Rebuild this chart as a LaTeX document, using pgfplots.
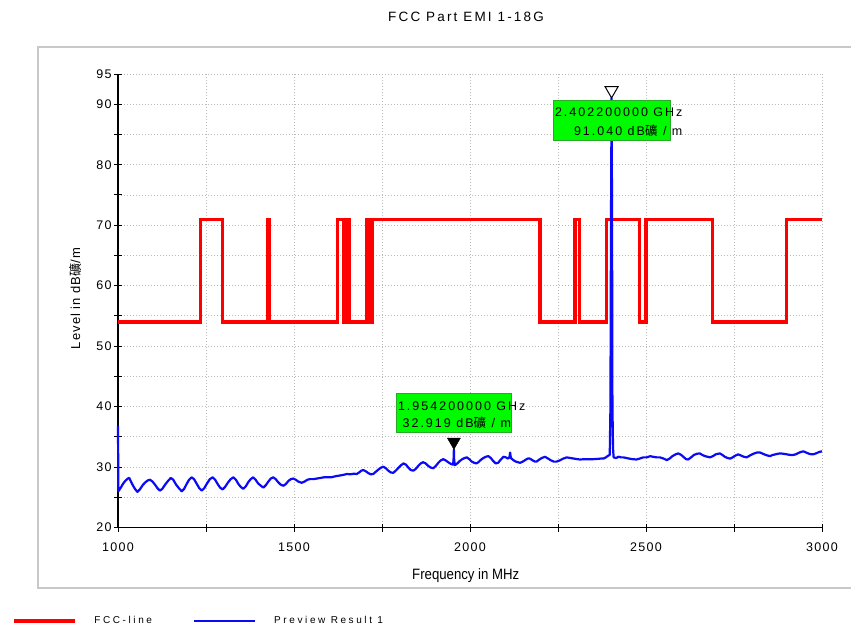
\documentclass[border=0pt]{standalone}
\usepackage{fontspec}
\usepackage{pgfplots}
\pgfplotsset{compat=1.18}
\setmainfont{Liberation Sans}
\newfontfamily\cjk{Noto Sans CJK SC}
\newfontfamily\tickfont[LetterSpace=10]{Liberation Sans}
\newfontfamily\spacedfont[LetterSpace=16]{Liberation Sans}
\newfontfamily\labelfont[LetterSpace=8]{Liberation Sans}
\newfontfamily\legfont[LetterSpace=26]{Liberation Sans}
\newfontfamily\narrowfont[FakeStretch=0.88]{Liberation Sans}
\definecolor{markgreen}{RGB}{0,250,0}
\definecolor{boxedge}{RGB}{40,170,40}
\definecolor{framegray}{RGB}{200,200,200}
\definecolor{limitred}{RGB}{255,0,0}
\definecolor{traceblue}{RGB}{10,10,245}

\begin{document}
\begin{tikzpicture}
\useasboundingbox (0pt,0pt) rectangle (851pt,-630pt);
% outer panel
\draw[framegray, line width=1.5pt] (38pt,-47pt) rectangle (860pt,-588pt);
% title
\node[font=\fontsize{13.5}{15}\spacedfont] at (466pt,-17pt) {FCC Part EMI 1-18G};
\begin{axis}[
  at={(118pt,-527.5pt)}, anchor=south west,
  scale only axis, width=704pt, height=453.5pt,
  xmin=1000, xmax=3000, ymin=20, ymax=95,
  clip=false,
  axis x line=bottom, axis y line=left,
  axis line style={-, line width=1.2pt, black},
  xtick={1000,1250,...,3000},
  xticklabels={1000,,1500,,2000,,2500,,3000},
  ytick={20,25,...,95},
  yticklabels={20,,30,,40,,50,,60,,70,,80,,90,95},
  /pgf/number format/assume math mode=true,
  tick label style={font=\fontsize{12.5}{13}\tickfont},
  xticklabel style={yshift=-8pt},
  yticklabel style={xshift=1pt},
  tick align=center, major tick length=8pt,
  tick style={black, line width=1pt},
  grid=major,
  grid style={gray!55, line width=0.8pt, dash pattern=on 0.8pt off 2.2pt},
  xlabel={Frequency in MHz},
  xlabel style={font=\fontsize{15}{16}\narrowfont, at={(axis description cs:0.494,-0.105)}, anchor=center},
  ylabel={Level in dB{\cjk 礦}/m},
  ylabel style={font=\fontsize{13}{14}\labelfont, at={(axis description cs:-0.061,0.505)}, anchor=center},
  legend columns=2,
  legend style={at={(axis description cs:-0.1506,-0.206)}, anchor=west,
    draw=none, fill=none, inner sep=0pt,
    font=\fontsize{10}{12}\legfont,
    /tikz/every odd column/.append style={column sep=16pt},
    /tikz/every even column/.append style={column sep=39pt}},
  legend image code/.code={\draw[#1] (0pt,0pt) -- (61pt,0pt);},
]
% FCC limit line
\addplot[limitred, line width=3.2pt, line join=miter] coordinates {
 (1000,54) (1235,54) (1235,71) (1297,71) (1297,54)
 (1426,54) (1426,71) (1429,71) (1429,54)
 (1624,54) (1624,71) (1640,71) (1640,54) (1650,54) (1650,71) (1656,71) (1656,54)
 (1707,54) (1707,71) (1712,71) (1712,54) (1716,54) (1716,71) (1719,71) (1719,54) (1722,54) (1722,71)
 (2199,71) (2199,54) (2298,54) (2298,71) (2310,71) (2310,54)
 (2387,54) (2387,71) (2482,71) (2482,54) (2500,54) (2500,71)
 (2689,71) (2689,54) (2898,54) (2898,71) (3000,71)
};
\addlegendentry{FCC-line}
% measured trace
\addplot[traceblue, line width=2.2pt, line join=round] coordinates {
 (1000,36.8) (1001,26.0) (1008,26.6) (1015,27.3) (1022,27.8) (1028,28.1) (1032,28.2)
 (1036,27.7) (1042,27.0) (1048,26.4) (1055,25.9) (1062,26.3) (1070,27.0) (1078,27.5)
 (1085,27.8) (1091,27.9) (1098,27.6) (1105,27.1) (1112,26.5) (1119,26.1) (1126,26.4)
 (1134,27.1) (1142,27.7) (1150,28.2) (1157,27.9) (1165,27.1) (1173,26.5) (1181,26.0)
 (1188,26.4) (1195,27.2) (1202,27.9) (1209,28.3) (1216,28.0) (1224,27.2) (1231,26.5)
 (1238,26.1) (1245,26.5) (1253,27.3) (1261,28.0) (1269,28.3) (1276,27.9) (1283,27.2)
 (1290,26.6) (1297,26.3) (1304,26.7) (1312,27.4) (1320,28.0) (1328,28.3) (1335,27.9)
 (1342,27.2) (1349,26.7) (1356,26.4) (1363,26.8) (1370,27.5) (1377,28.0) (1384,28.3)
 (1391,27.9) (1398,27.3) (1406,26.9) (1413,26.6) (1420,27.0) (1427,27.6) (1434,28.1)
 (1441,28.3) (1448,28.0) (1455,27.5) (1462,27.1) (1470,26.9) (1477,27.2) (1484,27.7)
 (1491,28.0) (1498,28.1) (1505,27.9) (1512,27.6) (1522,27.4) (1530,27.6) (1538,27.9)
 (1545,28.0) (1555,28.0) (1565,28.1) (1575,28.2) (1585,28.3) (1595,28.3) (1605,28.3)
 (1612,28.4) (1620,28.5) (1630,28.6) (1640,28.7) (1650,28.85) (1660,28.8) (1670,28.9)
 (1678,28.85) (1685,29.1) (1691,29.4) (1697,29.5) (1704,29.3) (1711,29.0) (1718,28.8)
 (1725,28.85) (1732,29.2) (1740,29.6) (1747,29.9) (1754,30.05) (1761,29.8) (1768,29.4)
 (1775,29.1) (1782,29.05) (1789,29.4) (1797,29.9) (1804,30.3) (1811,30.6) (1818,30.4)
 (1825,29.9) (1832,29.5) (1839,29.4) (1846,29.7) (1853,30.2) (1860,30.6) (1867,30.8)
 (1874,30.6) (1881,30.2) (1889,29.9) (1896,29.8) (1903,30.2) (1910,30.7) (1917,31.1)
 (1924,31.3) (1931,31.1) (1938,30.8) (1946,30.5) (1952,30.4) (1953.5,31.5) (1954.2,32.919)
 (1955,31.2) (1957,30.3) (1964,30.6) (1971,31.0) (1978,31.3) (1985,31.5) (1991,31.6)
 (1998,31.3) (2005,30.9) (2012,30.7) (2018,30.6) (2024,30.8) (2031,31.2) (2038,31.5)
 (2045,31.7) (2052,31.8) (2059,31.5) (2066,31.0) (2073,30.6) (2080,30.7) (2087,31.2)
 (2095,31.7) (2102,31.6) (2108,31.4) (2112,31.6) (2114,32.4) (2116,31.5) (2123,31.15)
 (2130,30.9) (2136,30.8) (2142,30.7) (2150,30.9) (2158,31.2) (2164,31.4) (2170,31.4)
 (2178,31.1) (2185,30.9) (2189,30.9) (2196,31.2) (2204,31.5) (2213,31.7) (2222,31.4)
 (2230,31.1) (2238,30.9) (2246,30.9) (2255,31.1) (2265,31.4) (2275,31.6) (2285,31.5)
 (2295,31.4) (2305,31.3) (2313,31.25) (2325,31.3) (2338,31.3) (2350,31.3) (2362,31.35)
 (2372,31.4) (2379,31.4) (2386,31.6) (2393,31.9) (2397,32.0) (2399,40.0) (2400.5,70)
 (2402.2,91.04) (2403.5,72) (2404.5,42) (2405.5,36) (2406.5,33) (2408,31.6) (2415,31.5)
 (2422,31.7) (2429,31.6) (2436,31.6) (2444,31.5) (2452,31.4) (2462,31.3) (2473,31.25)
 (2482,31.4) (2492,31.6) (2502,31.6) (2512,31.8) (2520,31.7) (2530,31.6) (2540,31.6)
 (2550,31.4) (2559,31.15) (2567,31.4) (2575,31.8) (2584,32.1) (2592,32.25) (2600,32.0)
 (2608,31.6) (2614,31.3) (2620,31.25) (2628,31.6) (2636,32.0) (2645,32.2) (2653,32.25)
 (2660,32.0) (2668,31.8) (2675,31.7) (2682,31.6) (2690,31.8) (2698,32.1) (2705,32.2)
 (2710,32.25) (2717,32.0) (2724,31.7) (2731,31.5) (2739,31.4) (2746,31.6) (2754,31.9)
 (2762,32.1) (2770,31.9) (2778,31.7) (2786,31.6) (2795,31.9) (2805,32.2) (2815,32.4)
 (2824,32.4) (2832,32.2) (2840,32.0) (2846,31.9) (2852,31.8) (2860,32.0) (2868,32.1)
 (2875,32.2) (2881,32.25) (2890,32.2) (2900,32.1) (2910,32.0) (2918,32.0) (2925,32.1)
 (2932,32.3) (2940,32.5) (2947,32.6) (2955,32.4) (2963,32.2) (2970,32.1) (2975,32.1)
 (2985,32.3) (2992,32.5) (3000,32.6)
};
\addlegendentry{Preview Result 1}
% marker flags
\addplot[only marks, forget plot, mark=triangle*, mark size=7.5pt,
  mark options={black, fill=black, yshift=7.5pt, rotate=180}] coordinates {(1954.2,32.919)};
\addplot[only marks, forget plot, mark=triangle, mark size=7.5pt,
  mark options={black, fill=white, line width=1pt, yshift=7.5pt, rotate=180}] coordinates {(2402.2,91.04)};
% marker read-outs
\draw[boxedge, fill=markgreen, line width=0.8pt] (axis cs:1790,35.8) rectangle (axis cs:2116.5,42.1);
\node[anchor=west, inner sep=0pt, font=\fontsize{12.5}{13}\spacedfont] at (axis cs:1795,40.1) {1.954200000 GHz};
\node[anchor=west, inner sep=0pt, font=\fontsize{12.5}{13}\spacedfont] at (axis cs:1808,37.3) {32.919 dB{\cjk 礦} / m};
\draw[boxedge, fill=markgreen, line width=0.8pt] (axis cs:2236,84.05) rectangle (axis cs:2568,90.7);
\node[anchor=west, inner sep=0pt, font=\fontsize{12.5}{13}\spacedfont] at (axis cs:2241,88.7) {2.402200000 GHz};
\node[anchor=west, inner sep=0pt, font=\fontsize{12.5}{13}\spacedfont] at (axis cs:2295,85.7) {91.040 dB{\cjk 礦} / m};
\end{axis}
\end{tikzpicture}
\end{document}
